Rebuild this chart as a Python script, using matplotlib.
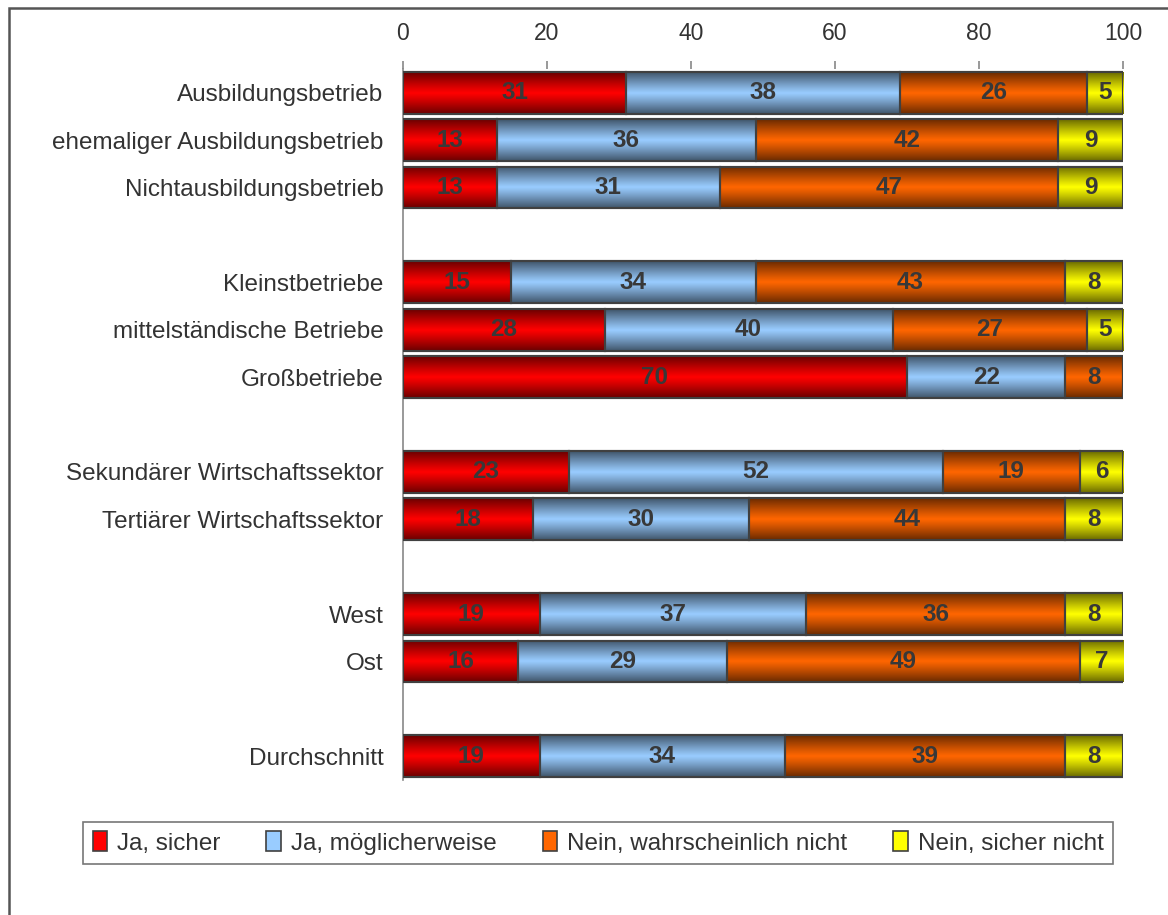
import numpy as np
import matplotlib
matplotlib.use("Agg")
import matplotlib.pyplot as plt
from matplotlib.colors import to_rgb
from matplotlib.patches import Patch, Rectangle

plt.rcParams['font.family'] = ['Liberation Sans', 'DejaVu Sans']

# categories top to bottom, None = empty row between groups
categories = ["Ausbildungsbetrieb", "ehemaliger Ausbildungsbetrieb", "Nichtausbildungsbetrieb", None,
              "Kleinstbetriebe", "mittelständische Betriebe", "Großbetriebe", None,
              "Sekundärer Wirtschaftssektor", "Tertiärer Wirtschaftssektor", None,
              "West", "Ost", None,
              "Durchschnitt"]

ja_sicher = [31, 13, 13, 15, 28, 70, 23, 18, 19, 16, 19]
ja_moeglich = [38, 36, 31, 34, 40, 22, 52, 30, 37, 29, 34]
nein_wahrsch = [26, 42, 47, 43, 27, 8, 19, 44, 36, 49, 39]
nein_sicher = [5, 9, 9, 8, 5, 0, 6, 8, 8, 7, 8]

series_names = ["Ja, sicher", "Ja, möglicherweise", "Nein, wahrscheinlich nicht", "Nein, sicher nicht"]
series_colors = ["#ff0000", "#99ccff", "#ff6600", "#ffff00"]

rows = [i for i, c in enumerate(categories) if c is not None]
labels = [c for c in categories if c is not None]
series = [ja_sicher, ja_moeglich, nein_wahrsch, nein_sicher]

fig = plt.figure(figsize=(11.68, 9.15), dpi=100)
ax = fig.add_axes([0.345, 0.1475, 0.6165, 0.7771])

edge = "#404040"
txt = "#383838"
h = 0.88


def gradient(color, n=64):
    # dark at top and bottom edges, full colour in the middle
    c = np.array(to_rgb(color))
    t = np.linspace(0, 1, n)
    k = 1 - np.abs(2 * t - 1) ** 1.1
    f = 0.42 + 0.58 * k
    return (c[None, :] * f[:, None])[:, None, :]


left = np.zeros(len(rows))
for vals, name, col in zip(series, series_names, series_colors):
    vals = np.array(vals, dtype=float)
    ax.barh(rows, vals, left=left, height=h, color=col, edgecolor=edge,
            linewidth=1.5, zorder=2)
    img = gradient(col)
    for y, v, l0 in zip(rows, vals, left):
        if v <= 0:
            continue
        r = min(l0 + v, 100)
        ax.imshow(img, extent=(l0, r, y + h / 2, y - h / 2), aspect='auto',
                  interpolation='bilinear', zorder=2.1)
        ax.text((l0 + r) / 2, y, f"{int(v)}", ha='center', va='center', fontsize=17.5,
                fontweight='bold', color=txt, zorder=4)
    ax.barh(rows, vals, left=left, height=h, fill=False, edgecolor=edge,
            linewidth=1.5, zorder=3)
    left = left + vals

ax.set_xlim(0, 100)
ax.set_ylim(len(categories) - 0.5, -0.5)
ax.set_aspect('auto')
ax.xaxis.tick_top()
ax.set_xticks(range(0, 101, 20))
ax.tick_params(axis='x', length=6, width=1.2, color='#888888', pad=11,
               labelsize=16.5, labelcolor='#333333')
ax.set_yticks(rows)
ax.set_yticklabels(labels, fontsize=17.5, color='#333333')
ax.tick_params(axis='y', length=0, pad=14)
for s in ['top', 'right', 'bottom']:
    ax.spines[s].set_visible(False)
ax.spines['left'].set_color('#888888')
ax.spines['left'].set_linewidth(1.2)

# legend with small square keys
handles = [Patch(facecolor=c, edgecolor=edge, linewidth=1.2) for c in series_colors]
leg = fig.legend(handles, series_names, loc='center', bbox_to_anchor=(0.512, 0.0787),
                 ncol=4, fontsize=17.5, frameon=True, fancybox=False,
                 handlelength=0.6, handleheight=0.9, handletextpad=0.4,
                 columnspacing=1.9, borderpad=0.4, labelcolor='#333333')
leg.get_frame().set_edgecolor('#555555')
leg.get_frame().set_linewidth(1.2)

# outer frame
fig.add_artist(Rectangle((9 / 1168, -0.05), 1.1, 1 - 8 / 915 + 0.05, transform=fig.transFigure,
                         fill=False, edgecolor='#555555', linewidth=1.8))

fig.savefig("out.png", dpi=100)
